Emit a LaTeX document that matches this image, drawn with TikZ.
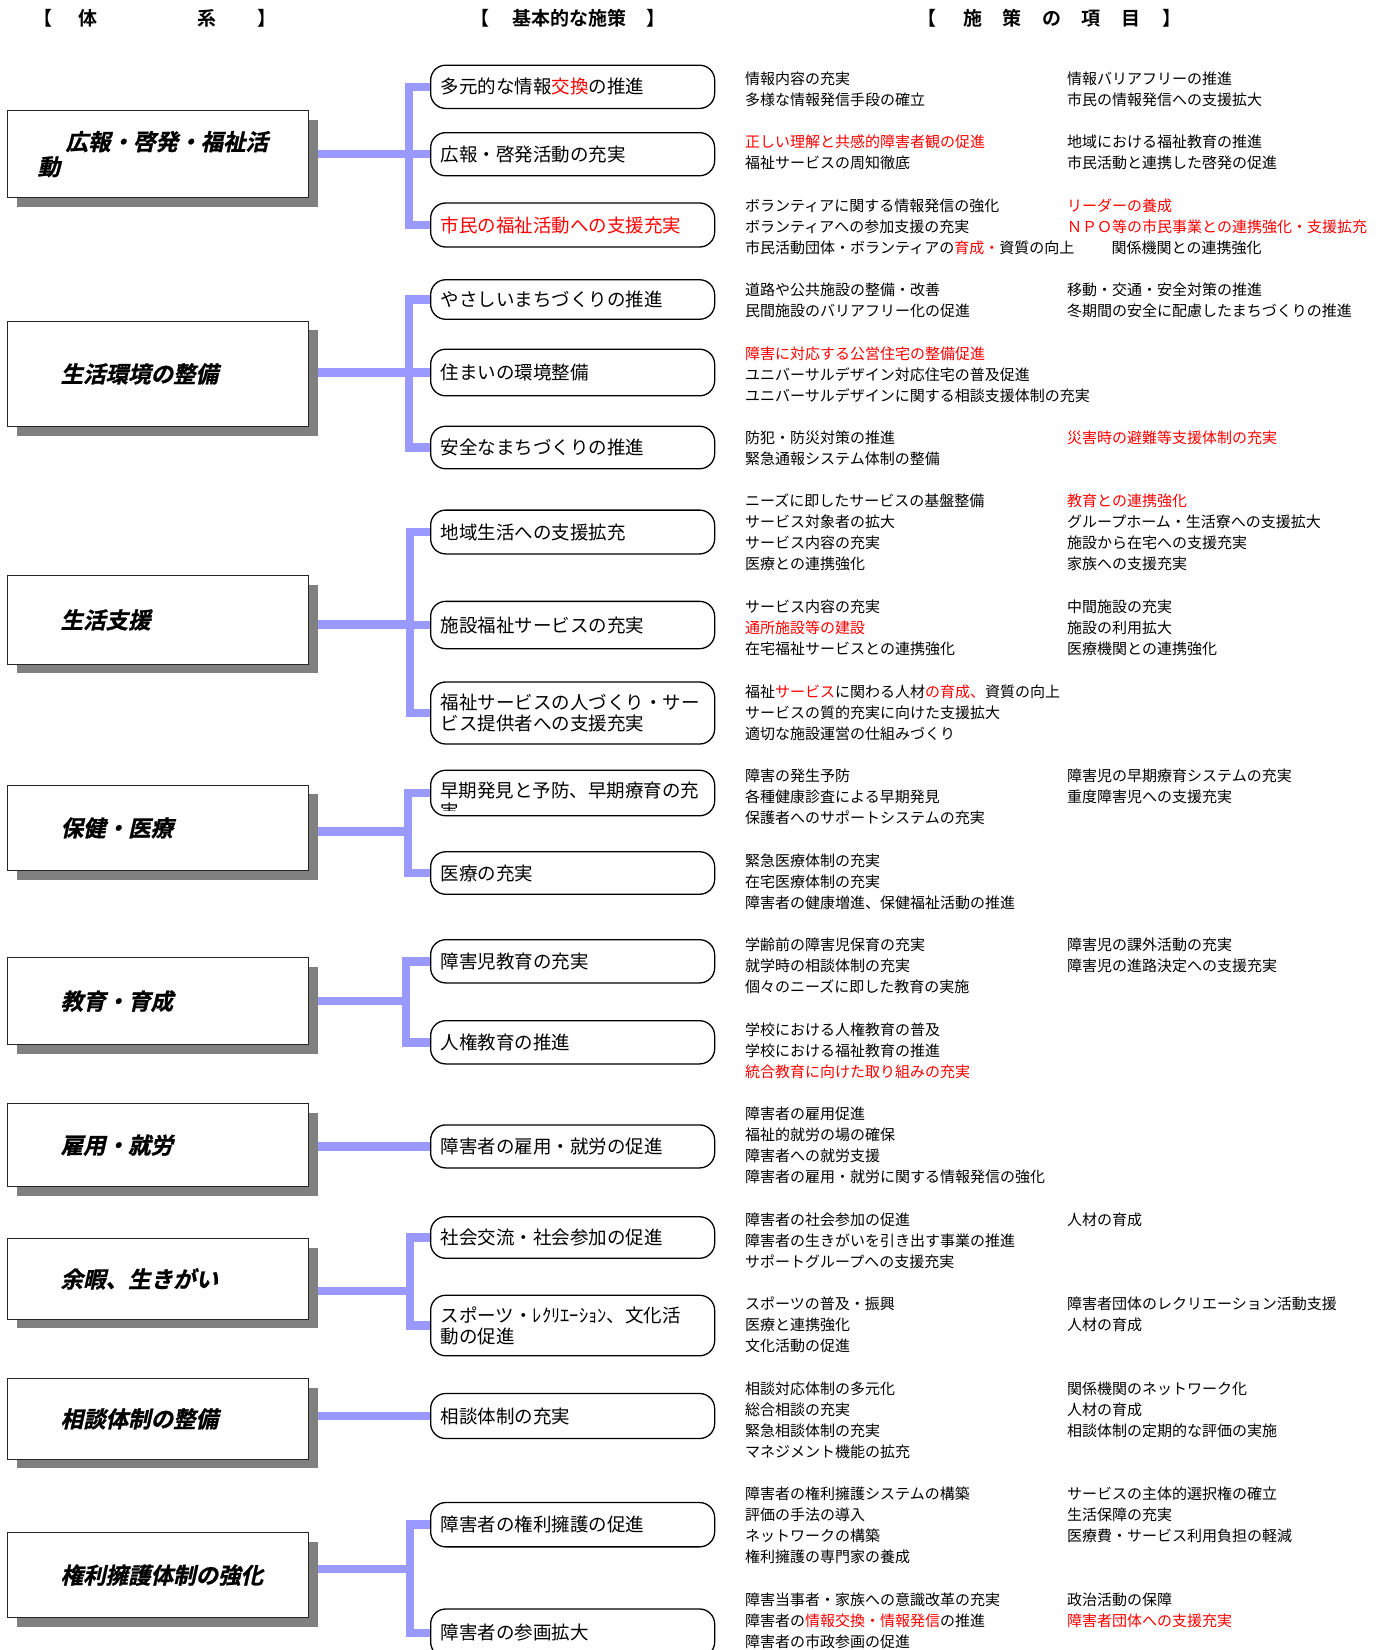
\documentclass[tikz,border=0pt]{standalone}
\usepackage{fontspec}
\setmainfont{Noto Sans CJK JP}
\newfontfamily\boxfont{Noto Sans CJK JP Bold}[FakeSlant=0.22,FakeBold=1]
\newfontfamily\hdrfont{Noto Sans CJK JP Bold}
\usetikzlibrary{shadows,calc}
\pgfdeclarelayer{background}
\pgfsetlayers{background,main}
\definecolor{linkblue}{RGB}{153,153,255}
\definecolor{redtxt}{RGB}{255,0,0}
\definecolor{shadowgray}{RGB}{128,128,128}
\newcommand\rd[1]{\textcolor{redtxt}{#1}}
\tikzset{
  link/.style={draw=linkblue, line width=8.5pt},
  pill/.style={draw=black, line width=1.3pt, fill=white, rounded corners=15pt,
    text width=264pt, align=left, inner xsep=10pt, inner ysep=0pt, anchor=west,
    font=\fontsize{18.5}{21}\selectfont},
  pilltxt/.style={text width=264pt, align=left, inner sep=0pt, anchor=base west,
    font=\fontsize{18.5}{21}\selectfont},
  sysbox/.style={draw=black!85, line width=1.3pt, fill=white, anchor=north west,
    inner sep=0pt, text width=301pt, minimum height=#1, align=left,
    font=\boxfont\fontsize{22.5}{25}\selectfont,
    drop shadow={shadow xshift=9pt, shadow yshift=-9pt, fill=shadowgray, opacity=1}},
  itemtxt/.style={anchor=base west, inner sep=0pt, font=\fontsize{15}{18}\selectfont},
  hdr/.style={anchor=west, inner sep=0pt, font=\hdrfont\fontsize{19}{22}\selectfont}
}
\newcommand\itemcol[4]{%
  \foreach \t [count=\i from 0] in {#4}
    \node[itemtxt] (#1-\i) at (#2,{#3+21*\i+5.7}) {\t};%
}
\begin{document}
\begin{tikzpicture}[x=1pt,y=-1pt]
\useasboundingbox (0,0) rectangle (1390,1650);
\clip (0,0) rectangle (1390,1650);

% headers
\node[hdr] (h1) at (33,18) {【\hspace{26pt}体\hspace{100pt}系\hspace{41pt}】};
\node[hdr] (h2) at (470,18) {【\hspace{23pt}基本的な施策\hspace{20pt}】};
\node[hdr] (h3) at (917,18) {【\hspace{27pt}施\hspace{20.5pt}策\hspace{20.5pt}の\hspace{20.5pt}項\hspace{20.5pt}目\hspace{22pt}】};

% system boxes
\node[sysbox=87pt] (b1) at (7,110) {\hspace*{58pt}広報・啓発・福祉活\\\hspace*{30pt}動};
\node[sysbox=105.5pt] (b2) at (7,320.5) {\hspace*{53pt}生活環境の整備};
\node[sysbox=88.5pt] (b3) at (7,575) {\hspace*{53pt}生活支援};
\node[sysbox=85.5pt] (b4) at (7,784.5) {\hspace*{53pt}保健・医療};
\node[sysbox=87pt] (b5) at (7,957) {\hspace*{53pt}教育・育成};
\node[sysbox=83pt] (b6) at (7,1103) {\hspace*{53pt}雇用・就労};
\node[sysbox=80.5pt] (b7) at (7,1238) {\hspace*{53pt}余暇、生きがい};
\node[sysbox=80.5pt] (b8) at (7,1378) {\hspace*{53pt}相談体制の整備};
\node[sysbox=85pt] (b9) at (7,1532) {\hspace*{53pt}権利擁護体制の強化};

% basic measures (pills)
\node[pill, minimum height=43.2pt] (p1) at (430,86.8) {多元的な情報\rd{交換}の推進};
\node[pill, minimum height=43.1pt] (p2) at (430,154.2) {広報・啓発活動の充実};
\node[pill, minimum height=44pt] (p3) at (430,225) {\rd{市民の福祉活動への支援充実}};
\node[pill, minimum height=39.5pt] (p4) at (430,299.5) {やさしいまちづくりの推進};
\node[pill, minimum height=46.6pt] (p5) at (430,372.5) {住まいの環境整備};
\node[pill, minimum height=42.5pt] (p6) at (430,447.5) {安全なまちづくりの推進};
\node[pill, minimum height=43.8pt] (p7) at (430,532) {地域生活への支援拡充};
\node[pill, minimum height=47.3pt] (p8) at (430,625) {施設福祉サービスの充実};
\node[pill, minimum height=62pt] (p9) at (430,713) {福祉サービスの人づくり・サー\\ビス提供者への支援充実};
\node[pill, minimum height=45.5pt] (p10) at (430,793) {};
\begin{scope}
  \clip (431,771) rectangle (713,810);
  \node[pilltxt] (p10t) at (440,797) {早期発見と予防、早期療育の充\\実};
\end{scope}
\node[pill, minimum height=42.5pt] (p11) at (430,873) {医療の充実};
\node[pill, minimum height=43.2pt] (p12) at (430,961.3) {障害児教育の充実};
\node[pill, minimum height=43.2pt] (p13) at (430,1042.3) {人権教育の推進};
\node[pill, minimum height=43pt] (p14) at (430,1146.4) {障害者の雇用・就労の促進};
\node[pill, minimum height=41.5pt] (p15) at (430,1237.5) {社会交流・社会参加の促進};
\node[pill, minimum height=60.5pt] (p16) at (430,1325.5) {スポーツ・ﾚｸﾘｴｰｼｮﾝ、文化活\\動の促進};
\node[pill, minimum height=45pt] (p17) at (430,1416) {相談体制の充実};
\node[pill, minimum height=44.3pt] (p18) at (430,1524.7) {障害者の権利擁護の促進};
\node[pill, minimum height=48pt] (p19) at (430,1633) {障害者の参画拡大};

% connectors
\begin{pgfonlayer}{background}
\coordinate (j1) at (409,154.2);
\draw[link] (p1.west) -| (j1) |- (p3.west);
\draw[link] (j1 |- p2.west) -- (p2.west);
\draw[link] (b1.east |- j1) -- (j1);
\coordinate (j2) at (409,372.5);
\draw[link] (p4.west) -| (j2) |- (p6.west);
\draw[link] (j2 |- p5.west) -- (p5.west);
\draw[link] (b2.east |- j2) -- (j2);
\coordinate (j3) at (410,624.5);
\draw[link] (p7.west) -| (j3) |- (p9.west);
\draw[link] (j3 |- p8.west) -- (p8.west);
\draw[link] (b3.east |- j3) -- (j3);
\coordinate (j4) at (408,831.5);
\draw[link] (p10.west) -| (j4) |- (p11.west);
\draw[link] (b4.east |- j4) -- (j4);
\coordinate (j5) at (406,1001);
\draw[link] (p12.west) -| (j5) |- (p13.west);
\draw[link] (b5.east |- j5) -- (j5);
\draw[link] (b6.east |- p14.west) -- (p14.west);
\coordinate (j7) at (410,1291);
\draw[link] (p15.west) -| (j7) |- (p16.west);
\draw[link] (b7.east |- j7) -- (j7);
\draw[link] (b8.east |- p17.west) -- (p17.west);
\coordinate (j9) at (410,1569);
\draw[link] (p18.west) -| (j9) |- (p19.west);
\draw[link] (b9.east |- j9) -- (j9);
\end{pgfonlayer}

% items
\itemcol{i1a}{745}{79}{情報内容の充実,多様な情報発信手段の確立}
\itemcol{i1b}{1067}{79}{情報バリアフリーの推進,市民の情報発信への支援拡大}
\itemcol{i2a}{745}{141.7}{\rd{正しい理解と共感的障害者観の促進},福祉サービスの周知徹底}
\itemcol{i2b}{1067}{141.7}{地域における福祉教育の推進,市民活動と連携した啓発の促進}
\itemcol{i3a}{745}{205.7}{ボランティアに関する情報発信の強化,ボランティアへの参加支援の充実,市民活動団体・ボランティアの\rd{育成・}資質の向上}
\itemcol{i3b}{1067}{205.7}{\rd{リーダーの養成},\rd{ＮＰＯ等の市民事業との連携強化・支援拡充}}
\itemcol{i3c}{1111.5}{247.7}{関係機関との連携強化}
\itemcol{i4a}{745}{290}{道路や公共施設の整備・改善,民間施設のバリアフリー化の促進}
\itemcol{i4b}{1067}{290}{移動・交通・安全対策の推進,冬期間の安全に配慮したまちづくりの推進}
\itemcol{i5a}{745}{354}{\rd{障害に対応する公営住宅の整備促進},ユニバーサルデザイン対応住宅の普及促進,ユニバーサルデザインに関する相談支援体制の充実}
\itemcol{i6a}{745}{437.7}{防犯・防災対策の推進,緊急通報システム体制の整備}
\itemcol{i6b}{1067}{437.7}{\rd{災害時の避難等支援体制の充実}}
\itemcol{i7a}{745}{500.7}{ニーズに即したサービスの基盤整備,サービス対象者の拡大,サービス内容の充実,医療との連携強化}
\itemcol{i7b}{1067}{500.7}{\rd{教育との連携強化},グループホーム・生活寮への支援拡大,施設から在宅への支援充実,家族への支援充実}
\itemcol{i8a}{745}{606.7}{サービス内容の充実,\rd{通所施設等の建設},在宅福祉サービスとの連携強化}
\itemcol{i8b}{1067}{606.7}{中間施設の充実,施設の利用拡大,医療機関との連携強化}
\itemcol{i9a}{745}{691.7}{福祉\rd{サービス}に関わる人材\rd{の育成、}資質の向上,サービスの質的充実に向けた支援拡大,適切な施設運営の仕組みづくり}
\itemcol{i10a}{745}{775.7}{障害の発生予防,各種健康診査による早期発見,保護者へのサポートシステムの充実}
\itemcol{i10b}{1067}{775.7}{障害児の早期療育システムの充実,重度障害児への支援充実}
\itemcol{i11a}{745}{860.7}{緊急医療体制の充実,在宅医療体制の充実,障害者の健康増進、保健福祉活動の推進}
\itemcol{i12a}{745}{944.3}{学齢前の障害児保育の充実,就学時の相談体制の充実,個々のニーズに即した教育の実施}
\itemcol{i12b}{1067}{944.3}{障害児の課外活動の充実,障害児の進路決定への支援充実}
\itemcol{i13a}{745}{1029.3}{学校における人権教育の普及,学校における福祉教育の推進,\rd{統合教育に向けた取り組みの充実}}
\itemcol{i14a}{745}{1113.3}{障害者の雇用促進,福祉的就労の場の確保,障害者への就労支援,障害者の雇用・就労に関する情報発信の強化}
\itemcol{i15a}{745}{1219.5}{障害者の社会参加の促進,障害者の生きがいを引き出す事業の推進,サポートグループへの支援充実}
\itemcol{i15b}{1067}{1219.5}{人材の育成}
\itemcol{i16a}{745}{1303.5}{スポーツの普及・振興,医療と連携強化,文化活動の促進}
\itemcol{i16b}{1067}{1303.5}{障害者団体のレクリエーション活動支援,人材の育成}
\itemcol{i17a}{745}{1389}{相談対応体制の多元化,総合相談の充実,緊急相談体制の充実,マネジメント機能の拡充}
\itemcol{i17b}{1067}{1389}{関係機関のネットワーク化,人材の育成,相談体制の定期的な評価の実施}
\itemcol{i18a}{745}{1493.3}{障害者の権利擁護システムの構築,評価の手法の導入,ネットワークの構築,権利擁護の専門家の養成}
\itemcol{i18b}{1067}{1493.3}{サービスの主体的選択権の確立,生活保障の充実,医療費・サービス利用負担の軽減}
\itemcol{i19a}{745}{1599.3}{障害当事者・家族への意識改革の充実,障害者の\rd{情報交換・情報発信}の推進,障害者の市政参画の促進}
\itemcol{i19b}{1067}{1599.3}{政治活動の保障,\rd{障害者団体への支援充実}}
\end{tikzpicture}
\end{document}
